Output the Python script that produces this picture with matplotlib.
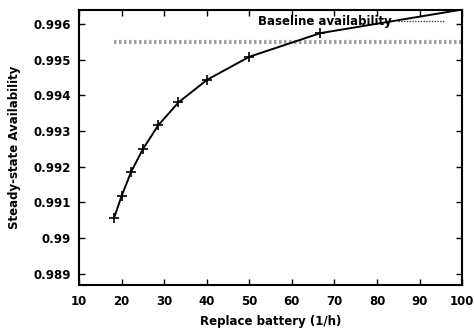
import matplotlib
matplotlib.use('Agg')
import matplotlib.pyplot as plt
from matplotlib.lines import Line2D

plt.rcParams['font.family'] = ['DejaVu Sans']
plt.rcParams['font.weight'] = 'bold'

# Datos
replace_rate = [18.18, 20.0, 22.22, 25.0, 28.57, 33.33, 40.0, 50.0, 66.67, 100.0]
availability = [0.99056, 0.99119, 0.99186, 0.99250, 0.99316, 0.99380,
                0.99443, 0.99508, 0.99574, 0.99640]
baseline_x = [18.18, 100.0]
baseline_y = [0.995505, 0.995505]

fig = plt.figure(figsize=(4.74, 3.31), dpi=100)
ax = fig.add_axes([0.167, 0.139, 0.808, 0.831])

ax.plot(baseline_x, baseline_y, color='#a0a0a0', lw=3, ls=(0, (0.6, 0.6)))
ax.plot(replace_rate, availability, color='black', lw=1.4,
        marker='+', markersize=6.5, markeredgewidth=1.2)

ax.set_xlim(10, 100)
ax.set_ylim(0.98869, 0.99639)
ax.set_xticks(range(10, 101, 10))
ax.set_yticks([0.989, 0.990, 0.991, 0.992, 0.993, 0.994, 0.995, 0.996])
ax.set_yticklabels(['0.989', '0.99', '0.991', '0.992', '0.993', '0.994', '0.995', '0.996'])
ax.tick_params(direction='in', top=True, right=True, length=4, width=1,
               labelsize=8.5, colors='black')
ax.tick_params(axis='x', pad=7.5)
ax.tick_params(axis='y', pad=6)
for s in ax.spines.values():
    s.set_linewidth(1.5)

ax.set_xlabel('Replace battery (1/h)', fontsize=8.5, fontweight='bold', labelpad=5)
ax.set_ylabel('Steady-state Availability', fontsize=8.5, fontweight='bold', labelpad=9)

proxy = Line2D([], [], color='#444444', lw=1, ls=(0, (1, 1)))
ax.legend([proxy], ['Baseline availability'], loc='upper right', frameon=False,
          markerfirst=False, handlelength=4, handletextpad=0.5, borderaxespad=0,
          bbox_to_anchor=(0.967, 1.0), prop={'weight': 'bold', 'size': 8.5})

fig.savefig('out.png', dpi=100)
